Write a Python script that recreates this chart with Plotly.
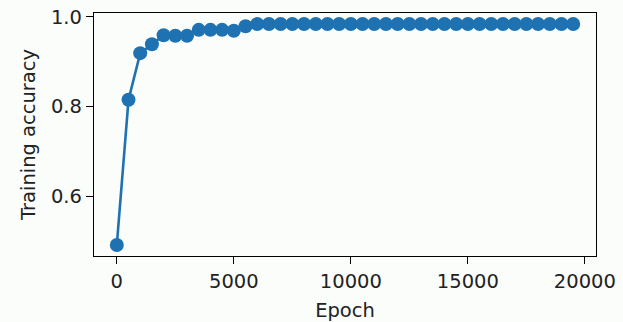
import plotly.graph_objects as go

# Training accuracy recorded every 500 epochs
epochs = list(range(0, 20000, 500))
accuracy = [
    0.491, 0.815, 0.919, 0.939, 0.959, 0.958, 0.958, 0.971, 0.971, 0.971,
    0.969, 0.979, 0.984, 0.984, 0.984, 0.984, 0.984, 0.984, 0.984, 0.984,
    0.984, 0.984, 0.984, 0.984, 0.984, 0.984, 0.984, 0.984, 0.984, 0.984,
    0.984, 0.984, 0.984, 0.984, 0.984, 0.984, 0.984, 0.984, 0.984, 0.984,
]
x_ticks = [0, 5000, 10000, 15000, 20000]
x_tick_labels = ["0", "5000", "10000", "15000", "20000"]
y_ticks = [0.6, 0.8, 1.0]
y_tick_labels = ["0.6", "0.8", "1.0"]

blue = "#1f72b2"
font = dict(family="DejaVu Sans", size=19.5, color="#222222")

# matplotlib-style 5% data margins
xmin, xmax = min(epochs), max(epochs)
ymin, ymax = min(accuracy), max(accuracy)
xpad = 0.05 * (xmax - xmin)
ypad = 0.05 * (ymax - ymin)

fig = go.Figure(
    go.Scatter(
        x=epochs,
        y=accuracy,
        mode="lines+markers",
        line=dict(color=blue, width=2.6),
        marker=dict(color=blue, size=14),
        cliponaxis=False,
    )
)

axis_common = dict(
    showgrid=False,
    zeroline=False,
    showline=True,
    linecolor="black",
    linewidth=1.3,
    mirror=True,
    ticks="outside",
    ticklen=7,
    tickwidth=1.3,
    tickcolor="black",
    tickfont=font,
    automargin=False,
)

fig.update_xaxes(
    range=[xmin - xpad, xmax + xpad],
    tickvals=x_ticks,
    ticktext=x_tick_labels,
    title=dict(text="Epoch", font=font, standoff=12),
    **axis_common,
)
fig.update_yaxes(
    range=[ymin - ypad, ymax + ypad],
    tickvals=y_ticks,
    ticktext=y_tick_labels,
    title=dict(text="Training accuracy", font=font, standoff=10),
    **axis_common,
)

fig.update_layout(
    width=623,
    height=322,
    margin=dict(l=94, r=27, t=13, b=66),
    paper_bgcolor="#fbfdfb",
    plot_bgcolor="#fbfdfb",
    showlegend=False,
    font=font,
)

fig.write_html("out.html")
